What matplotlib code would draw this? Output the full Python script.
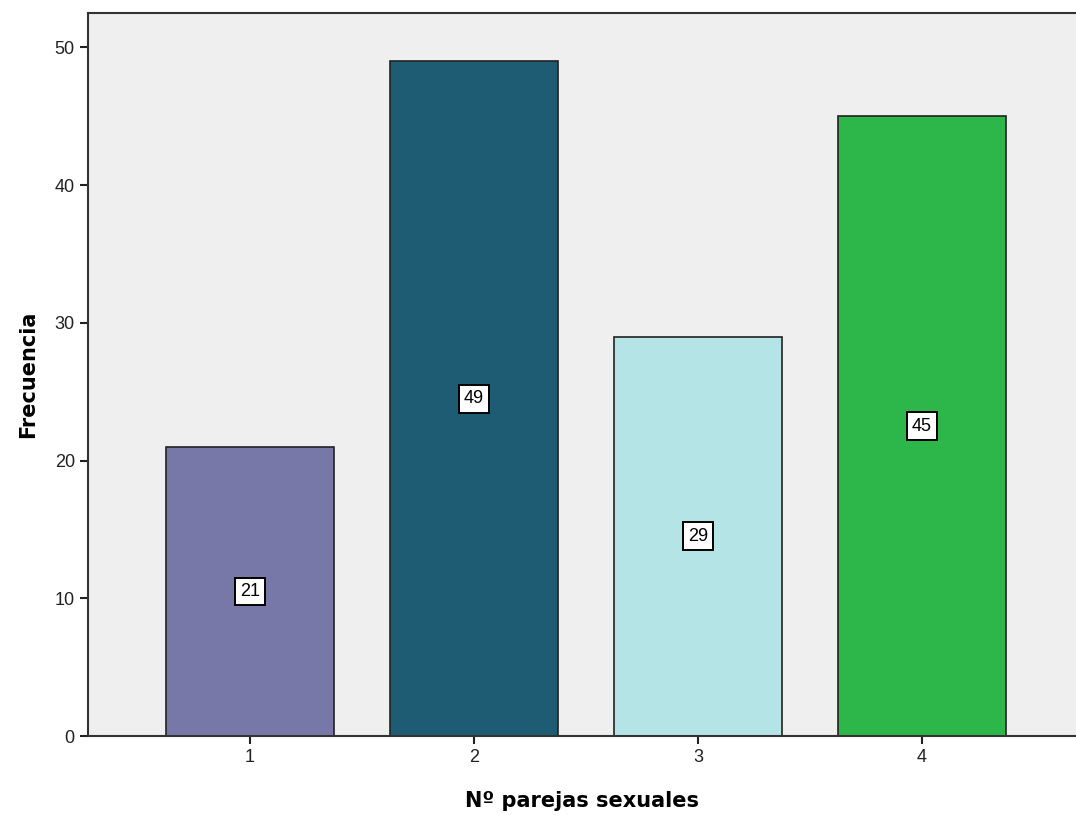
import matplotlib
matplotlib.use("Agg")
import matplotlib.pyplot as plt

categories = ["1", "2", "3", "4"]
counts = [21, 49, 29, 45]
colors = ["#7878A8", "#1D5C73", "#B4E4E6", "#2DB74A"]

fig = plt.figure(figsize=(10.76, 8.16), dpi=100)
ax = fig.add_axes([0.0818, 0.098, 0.9182, 0.886])
ax.set_facecolor("#EFEFEF")

x = list(range(1, len(categories) + 1))
ax.bar(x, counts, width=0.75, color=colors, edgecolor="#222222", linewidth=1.2)

for xi, c in zip(x, counts):
    ax.text(xi, c / 2, str(c), ha="center", va="center", fontsize=13,
            family="Liberation Sans",
            bbox=dict(boxstyle="square,pad=0.3", fc="white", ec="black", lw=1.4))

ax.set_xlim(0.277, 4.6875)
ax.set_ylim(0, 52.5)
ax.set_xticks(x)
ax.set_xticklabels(categories)
ax.set_yticks([0, 10, 20, 30, 40, 50])

for lab in ax.get_xticklabels() + ax.get_yticklabels():
    lab.set_family("Liberation Sans")
    lab.set_fontsize(13)
    lab.set_color("#222222")
ax.tick_params(direction="out", length=6, width=1.5, color="#222222")

ax.spines["right"].set_visible(False)
for s in ["left", "bottom", "top"]:
    ax.spines[s].set_linewidth(1.5)
    ax.spines[s].set_color("#333333")

ax.set_xlabel("Nº parejas sexuales", fontsize=15, fontweight="bold", labelpad=18)
ax.set_ylabel("Frecuencia", fontsize=15, fontweight="bold", labelpad=12)

fig.savefig("out.png", dpi=100)
